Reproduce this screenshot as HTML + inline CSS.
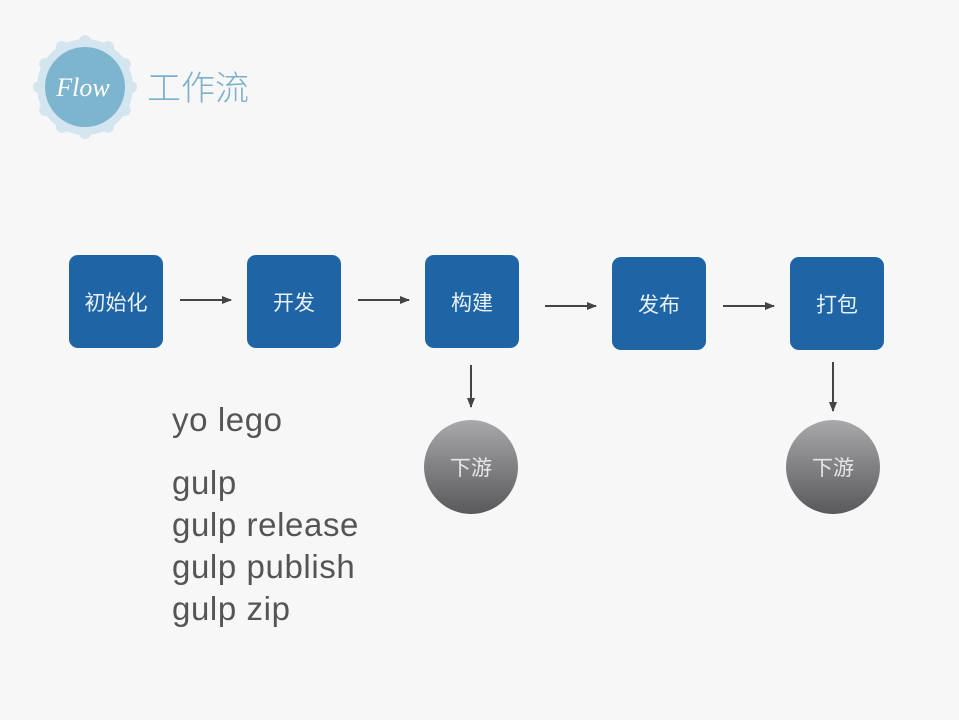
<!DOCTYPE html>
<html><head><meta charset="utf-8"><style>
body{margin:0;width:959px;height:720px;background:#f7f7f8;position:relative;overflow:hidden;font-family:"Liberation Sans","Noto Sans CJK SC",sans-serif}
.b{position:absolute;width:94px;height:93px;background:#1f65a6;border-radius:9px;color:#e8f0f8;font-size:21px;display:flex;align-items:center;justify-content:center}
.c{position:absolute;width:94px;height:94px;border-radius:50%;background:linear-gradient(#a9a9ab,#59595c);color:#e6e6e6;font-size:21px;display:flex;align-items:center;justify-content:center}
.t{position:absolute;left:172px;color:#555;font-size:33px;line-height:42px;letter-spacing:0.6px}
</style></head><body>
<svg width="959" height="720" style="position:absolute;left:0;top:0">
<defs><marker id="a" markerWidth="10" markerHeight="10" refX="9" refY="5" orient="auto" markerUnits="userSpaceOnUse"><path d="M0,1 L10,5 L0,9z" fill="#444"/></marker></defs>
<g fill="#d3e5ef">
<circle cx="85" cy="87" r="48"/>
<g id="s"><circle cx="85" cy="41" r="6"/><circle cx="85" cy="133" r="6"/><circle cx="39" cy="87" r="6"/><circle cx="131" cy="87" r="6"/></g>
<use href="#s" transform="rotate(30 85 87)"/><use href="#s" transform="rotate(60 85 87)"/>
</g>
<circle cx="85" cy="87" r="40" fill="#7db4ce"/>
<text x="83" y="96" text-anchor="middle" font-family="Liberation Serif,serif" font-style="italic" font-size="26" fill="#fff">Flow</text>
<text x="147" y="100" font-size="34" fill="#7ab0c9" font-family="Noto Sans CJK SC,sans-serif" font-weight="300">工作流</text>
<g stroke="#444" stroke-width="2" marker-end="url(#a)">
<line x1="180" y1="300" x2="231" y2="300"/><line x1="358" y1="300" x2="409" y2="300"/>
<line x1="545" y1="306" x2="596" y2="306"/><line x1="723" y1="306" x2="774" y2="306"/>
<line x1="471" y1="365" x2="471" y2="407"/><line x1="833" y1="362" x2="833" y2="411"/>
</g>
</svg>
<div class="b" style="left:69px;top:255px">初始化</div>
<div class="b" style="left:247px;top:255px">开发</div>
<div class="b" style="left:425px;top:255px">构建</div>
<div class="b" style="left:612px;top:257px">发布</div>
<div class="b" style="left:790px;top:257px">打包</div>
<div class="c" style="left:424px;top:420px">下游</div>
<div class="c" style="left:786px;top:420px">下游</div>
<div class="t" style="top:399px">yo lego</div>
<div class="t" style="top:462px">gulp<br>gulp release<br>gulp publish<br>gulp zip</div>
</body></html>
